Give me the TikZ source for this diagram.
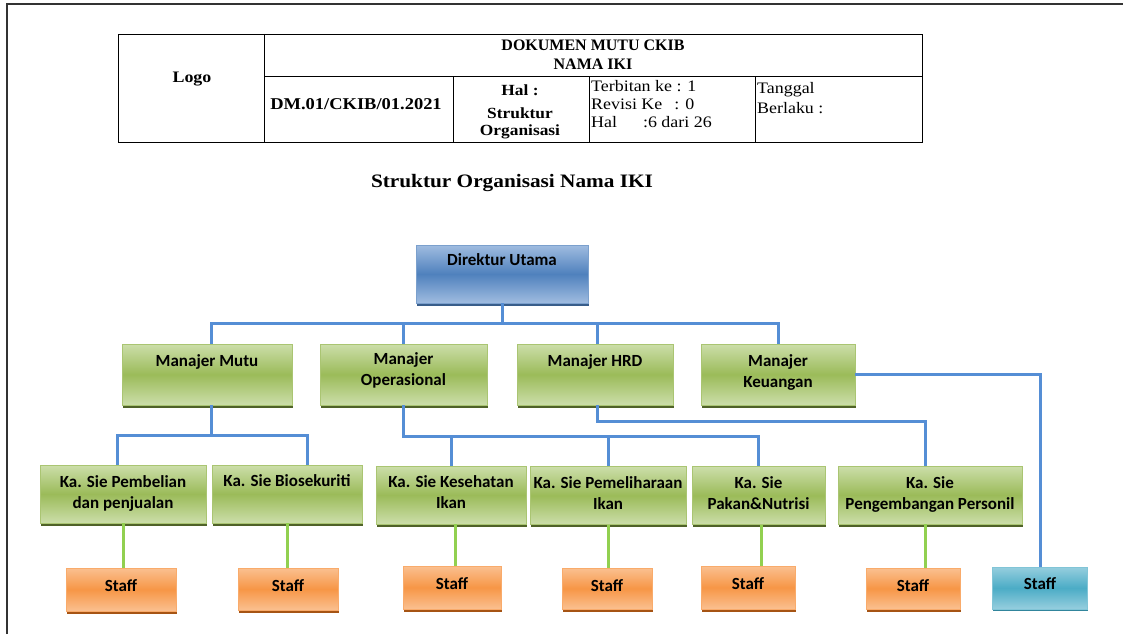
\documentclass[tikz,border=0pt]{standalone}
\usepackage{fontspec}
\usepackage{xcolor}
\usepackage{tikz}
\usetikzlibrary{positioning, calc, shadows}
\newfontfamily\hdrfont{Liberation Serif}[FakeStretch=1.12]
\newfontfamily\capfont{Liberation Serif}
\newfontfamily\boxfont{Carlito}
\definecolor{dirblue}{RGB}{79,129,189}
\definecolor{dirlight}{RGB}{160,188,224}
\definecolor{dirdark}{RGB}{56,93,138}
\definecolor{unitgreen}{RGB}{155,187,89}
\definecolor{unitlight}{RGB}{204,222,170}
\definecolor{unitdark}{RGB}{79,98,40}
\definecolor{stafforange}{RGB}{247,150,70}
\definecolor{stafflight}{RGB}{250,192,144}
\definecolor{staffdark}{RGB}{166,84,20}
\definecolor{staffaqua}{RGB}{75,172,198}
\definecolor{aqualight}{RGB}{150,206,222}
\definecolor{aquadark}{RGB}{49,133,156}
\definecolor{linkblue}{RGB}{85,142,213}
\definecolor{linkgreen}{RGB}{146,208,80}

\begin{document}
\begin{tikzpicture}[x=1pt, y=-1pt,
    tbl/.style={line width=0.9pt, black},
    hdr/.style={font=\hdrfont\fontsize{16}{19}\selectfont, inner sep=0pt},
    card/.style={rectangle, inner sep=0pt, line width=0.8pt},
    dirbox/.style={card, draw=dirblue!75, top color=dirlight, bottom color=dirlight, middle color=dirblue,
        drop shadow={shadow xshift=1pt, shadow yshift=-2.5pt, fill=dirdark, opacity=1}},
    unitbox/.style={card, draw=unitgreen!85, top color=unitlight, bottom color=unitlight, middle color=unitgreen,
        drop shadow={shadow xshift=1pt, shadow yshift=-2.5pt, fill=unitdark, opacity=1}},
    staffbox/.style={card, draw=stafforange!80, top color=stafflight, bottom color=stafflight, middle color=stafforange,
        drop shadow={shadow xshift=1pt, shadow yshift=-2.5pt, fill=staffdark, opacity=1}},
    aquabox/.style={card, draw=staffaqua!70, top color=aqualight, bottom color=aqualight, middle color=staffaqua,
        drop shadow={shadow xshift=0pt, shadow yshift=-2pt, fill=aquadark, opacity=1}},
    btext/.style={anchor=north, inner sep=0pt, align=center, font=\boxfont\bfseries\fontsize{17}{21}\selectfont},
    blink/.style={line width=3pt, draw=linkblue},
    glink/.style={line width=3pt, draw=linkgreen}]

    \useasboundingbox (0,0) rectangle (1123,634);
    \fill[white] (0,0) rectangle (1123,634);
    \draw[line width=1.3pt, black!80] (7,634) -- (7,4) -- (1123,4);

    % Document header
    \draw[tbl] (118,34) rectangle (922,142);
    \draw[tbl] (264,34) -- (264,142);
    \draw[tbl] (264,76) -- (922,76);
    \draw[tbl] (453,76) -- (453,142);
    \draw[tbl] (589,76) -- (589,142);
    \draw[tbl] (755,76) -- (755,142);

    \node[hdr, font=\hdrfont\bfseries\fontsize{16}{19}\selectfont] (logo) at (192,79) {Logo};
    \node[hdr, align=center, font=\capfont\bfseries\fontsize{16}{19}\selectfont] (doc) at (593,55) {DOKUMEN MUTU CKIB\\NAMA IKI};
    \node[hdr, font=\hdrfont\bfseries\fontsize{16.5}{19}\selectfont] (dmno) at (356,104) {DM.01/CKIB/01.2021};
    \node[hdr, font=\hdrfont\bfseries\fontsize{15.5}{17}\selectfont] (hal) at (520,90) {Hal :};
    \node[hdr, align=center, font=\hdrfont\bfseries\fontsize{15.5}{17}\selectfont] (halname) at (520,123.5) {Struktur\\Organisasi};
    \node[hdr, anchor=west, align=left, font=\hdrfont\fontsize{16}{18}\selectfont] (terbit) at (591,104)
        {Terbitan ke : 1\\Revisi Ke\hspace{12pt}: 0\\Hal\hspace{26pt}:6 dari 26};
    \node[hdr, anchor=west, align=left, font=\hdrfont\fontsize{16}{20}\selectfont] (tanggal) at (757,98) {Tanggal\\Berlaku :};

    \node[font=\hdrfont\bfseries\fontsize{19}{22}\selectfont, inner sep=0pt] (title) at (512,183) {Struktur Organisasi Nama IKI};

    % Direktur and managers
    \node[dirbox, minimum width=172pt, minimum height=58pt, label={[btext, yshift=-9pt]north:Direktur Utama}] (dir) at (502,274) {};

    \node[unitbox, minimum width=170pt, minimum height=61pt, label={[btext, yshift=-11pt]north:Manajer Mutu}] (mutu) at (207,374.5) {};
    \node[unitbox, minimum width=167pt, minimum height=61pt, label={[btext, yshift=-9pt]north:Manajer\\Operasional}] (ops) at (403.5,374.5) {};
    \node[unitbox, minimum width=156pt, minimum height=61pt, label={[btext, yshift=-11pt]north:Manajer HRD}] (hrd) at (595,374.5) {};
    \node[unitbox, minimum width=154pt, minimum height=61pt, label={[btext, yshift=-11pt]north:Manajer\\Keuangan}] (keu) at (778,374.5) {};

    % Kepala seksi
    \node[unitbox, minimum width=166pt, minimum height=58pt, label={[btext, yshift=-10.5pt]north:Ka. Sie Pembelian\\dan penjualan}] (pemb) at (123,494) {};
    \node[unitbox, minimum width=150pt, minimum height=58pt, label={[btext, yshift=-9.5pt]north:Ka. Sie Biosekuriti}] (bio) at (287,494) {};
    \node[unitbox, minimum width=150pt, minimum height=58pt, label={[btext, yshift=-10pt]north:Ka. Sie Kesehatan\\Ikan}] (kes) at (451,495) {};
    \node[unitbox, minimum width=156pt, minimum height=58pt, label={[btext, yshift=-10.5pt]north:Ka. Sie Pemeliharaan\\Ikan}] (pem) at (608,495.5) {};
    \node[unitbox, minimum width=133pt, minimum height=58pt, label={[btext, yshift=-10pt]north:Ka. Sie\\Pakan\&Nutrisi}] (pak) at (758.5,495.5) {};
    \node[unitbox, minimum width=184pt, minimum height=58pt, label={[btext, yshift=-10.5pt]north:Ka. Sie\\Pengembangan Personil}] (peng) at (930,495) {};

    % Staff
    \node[staffbox, minimum width=110pt, minimum height=43pt, label={[btext, yshift=-12pt]north:Staff}] (st1) at (121,589.5) {};
    \node[staffbox, minimum width=100pt, minimum height=42pt, label={[btext, yshift=-12pt]north:Staff}] (st2) at (288,589) {};
    \node[staffbox, minimum width=98pt, minimum height=43pt, label={[btext, yshift=-12pt]north:Staff}] (st3) at (452,587.5) {};
    \node[staffbox, minimum width=90pt, minimum height=41pt, label={[btext, yshift=-12pt]north:Staff}] (st4) at (607,588.5) {};
    \node[staffbox, minimum width=94pt, minimum height=43pt, label={[btext, yshift=-12pt]north:Staff}] (st5) at (748,587.5) {};
    \node[staffbox, minimum width=94pt, minimum height=41pt, label={[btext, yshift=-12pt]north:Staff}] (st6) at (913,588.5) {};
    \node[aquabox, minimum width=95pt, minimum height=42pt, label={[btext, yshift=-11pt]north:Staff}] (stq) at (1040,588) {};

    % Relations
    \draw[blink] (dir.south) -- ++(0,20) coordinate (busa);
    \draw[blink] ([xshift=4pt]mutu.north) |- (busa) -| (keu.north);
    \draw[blink] (ops.north) -- (ops.north |- busa);
    \draw[blink] ([xshift=2pt]hrd.north) -- ([xshift=2pt]hrd.north |- busa);

    \draw[blink] ([xshift=4pt]mutu.south) -- ++(0,30) coordinate (busb);
    \draw[blink] ([xshift=-6pt]pemb.north) |- (busb) -| ([xshift=20pt]bio.north);

    \draw[blink] (ops.south) -- ++(0,31) coordinate (busc) -| (pak.north);
    \draw[blink] (kes.north) -- (kes.north |- busc);
    \draw[blink] (pem.north) -- (pem.north |- busc);

    \draw[blink] ([xshift=2pt]hrd.south) -- ++(0,16) -| ([xshift=-5pt]peng.north);
    \draw[blink] (keu.east) -| (stq.north);

    \draw[glink] (pemb.south) -- (pemb.south |- st1.north);
    \draw[glink] (bio.south) -- (bio.south |- st2.north);
    \draw[glink] ([xshift=4pt]kes.south) -- ([xshift=4pt]kes.south |- st3.north);
    \draw[glink] (pem.south) -- (pem.south |- st4.north);
    \draw[glink] ([xshift=3pt]pak.south) -- ([xshift=3pt]pak.south |- st5.north);
    \draw[glink] ([xshift=-5pt]peng.south) -- ([xshift=-5pt]peng.south |- st6.north);
\end{tikzpicture}
\end{document}
